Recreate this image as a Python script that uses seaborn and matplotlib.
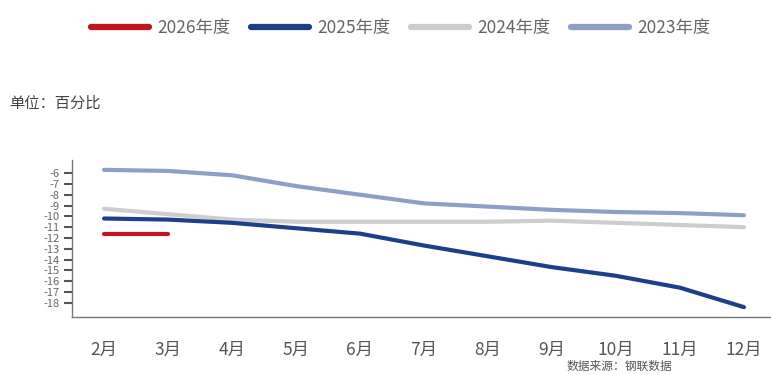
import numpy as np
import pandas as pd
import matplotlib
matplotlib.use("Agg")
import matplotlib.pyplot as plt
import seaborn as sns
from matplotlib.lines import Line2D

months = ["2月", "3月", "4月", "5月", "6月", "7月", "8月", "9月", "10月", "11月", "12月"]
y2026 = [-11.6, -11.6]
y2025 = [-10.2, -10.3, -10.6, -11.1, -11.6, -12.7, -13.7, -14.7, -15.5, -16.6, -18.4]
y2024 = [-9.3, -9.8, -10.3, -10.5, -10.5, -10.5, -10.5, -10.4, -10.6, -10.8, -11.0]
y2023 = [-5.7, -5.8, -6.2, -7.2, -8.0, -8.8, -9.1, -9.4, -9.6, -9.7, -9.9]
series_names = ["2026年度", "2025年度", "2024年度", "2023年度"]
yticks = list(range(-6, -19, -1))

sns.set_theme(style="white")
plt.rcParams['font.family'] = ['Noto Sans CJK SC', 'DejaVu Sans']

rows = []
for name, vals in zip(series_names, [y2026, y2025, y2024, y2023]):
    for i, v in enumerate(vals):
        rows.append({"series": name, "x": i, "value": v})
df = pd.DataFrame(rows)

palette = {"2026年度": "#c0161e", "2025年度": "#1c3f8a",
           "2024年度": "#cdcdcd", "2023年度": "#8d9fc4"}

fig = plt.figure(figsize=(7.71, 3.75), dpi=100)
ax = fig.add_axes([0.0934, 0.155, 0.913, 0.418])
draw_order = ["2023年度", "2024年度", "2025年度", "2026年度"]
sns.lineplot(data=df, x="x", y="value", hue="series", hue_order=draw_order,
             palette=palette, linewidth=3, ax=ax, legend=False, sort=True)

ax.set_xlim(-0.5, 10.5)
ax.set_ylim(-19.3, -4.8)
ax.set_xlabel("")
ax.set_ylabel("")
ax.set_xticks(range(len(months)))
ax.set_xticklabels(months, fontsize=12.5, color="#555555")
ax.set_xticks(np.arange(-0.5, 10.6, 1), minor=True)
ax.tick_params(axis="x", which="major", length=0, pad=17)
ax.tick_params(axis="x", which="minor", length=7, width=1, color="#555555", direction="out")
ax.set_yticks(yticks)
ax.set_yticklabels([str(t) for t in yticks], fontsize=8, color="#666666")
ax.tick_params(axis="y", length=6, width=1.5, color="#555555", direction="out", left=True, pad=3)
for s in ["top", "right"]:
    ax.spines[s].set_visible(False)
for s in ["left", "bottom"]:
    ax.spines[s].set_color("#777777")
    ax.spines[s].set_linewidth(1)

handles = [Line2D([0], [0], color=palette[n], lw=4.5, solid_capstyle="round") for n in series_names]
fig.legend(handles, series_names, loc="center", bbox_to_anchor=(0.52, 0.925), ncol=4,
           frameon=False, fontsize=12.5, handlelength=3.3, columnspacing=1.2,
           handletextpad=0.5, labelcolor="#666666")

fig.text(0.012, 0.725, "单位：百分比", fontsize=11, color="#444444", va="center")
fig.text(0.735, 0.022, "数据来源：钢联数据", fontsize=8.5, color="#555555", va="center")

fig.savefig("out.png", dpi=100)
